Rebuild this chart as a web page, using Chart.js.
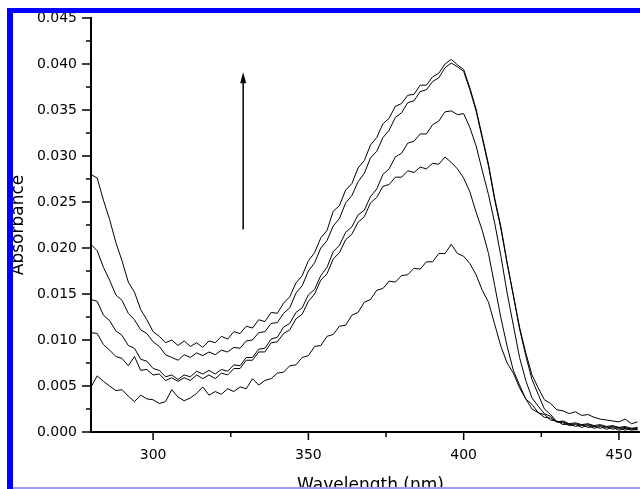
<!DOCTYPE html>
<html><head><meta charset="utf-8">
<script src="https://cdn.jsdelivr.net/npm/chart.js@4.4.0/dist/chart.umd.min.js"></script>
<style>
html,body{margin:0;padding:0;background:#fff;overflow:hidden;width:640px;height:489px;}
#wrap{position:absolute;left:0;top:0;width:660px;height:500px;}
.bar{position:absolute;}
</style></head><body>
<div id="wrap"><canvas id="c"></canvas></div>
<div class="bar" style="left:7px;top:8px;width:640px;height:5px;background:#0000ff"></div>
<div class="bar" style="left:7px;top:8px;width:6px;height:490px;background:#0000ff"></div>
<div class="bar" style="left:13px;top:487px;width:640px;height:2px;background:#9c9cf2"></div>
<script>
const wavelength = [280,282,284,286,288,290,292,294,296,298,300,302,304,306,308,310,312,314,316,318,320,322,324,326,328,330,332,334,336,338,340,342,344,346,348,350,352,354,356,358,360,362,364,366,368,370,372,374,376,378,380,382,384,386,388,390,392,394,396,398,400,402,404,406,408,410,412,414,416,418,420,422,424,426,428,430,432,434,436,438,440,442,444,446,448,450,452,454,456];
const scanA = [.0280,.0276,.0252,.0231,.0206,.0186,.0163,.0152,.0133,.0122,.0109,.0104,.0097,.0100,.0094,.0099,.0093,.0097,.0092,.0099,.0097,.0104,.0101,.0109,.0107,.0115,.0113,.0122,.0120,.0130,.0129,.0140,.0147,.0162,.0170,.0186,.0195,.0211,.0219,.0240,.0246,.0263,.0270,.0287,.0295,.0312,.0320,.0335,.0341,.0354,.0357,.0366,.0367,.0377,.0377,.0386,.0390,.0400,.0405,.0399,.0394,.0374,.0351,.0321,.0291,.0254,.0223,.0184,.0149,.0114,.0086,.0062,.0048,.0035,.0031,.0024,.0023,.0020,.0022,.0018,.0019,.0016,.0014,.0013,.0012,.0011,.0014,.0009,.0011];
const scanB = [.0204,.0197,.0179,.0165,.0149,.0143,.0129,.0122,.0111,.0107,.0098,.0093,.0084,.0081,.0078,.0084,.0081,.0086,.0083,.0087,.0084,.0089,.0087,.0092,.0091,.0099,.0100,.0108,.0109,.0118,.0119,.0129,.0135,.0151,.0159,.0175,.0184,.0200,.0208,.0224,.0232,.0249,.0257,.0272,.0281,.0298,.0305,.0320,.0328,.0342,.0347,.0358,.0360,.0370,.0372,.0381,.0385,.0396,.0401,.0397,.0392,.0372,.0349,.0319,.0289,.0252,.0221,.0183,.0148,.0112,.0083,.0057,.0041,.0025,.0019,.0011,.0010,.0007,.0008,.0005,.0007,.0004,.0006,.0003,.0005,.0002,.0004,.0002,.0003];
const scanC = [.0144,.0142,.0127,.0121,.0110,.0105,.0094,.0091,.0079,.0077,.0069,.0067,.0060,.0062,.0057,.0062,.0060,.0066,.0063,.0067,.0063,.0068,.0066,.0073,.0072,.0081,.0081,.0090,.0091,.0101,.0103,.0114,.0118,.0130,.0135,.0149,.0155,.0170,.0179,.0196,.0203,.0217,.0223,.0236,.0241,.0256,.0264,.0280,.0286,.0299,.0303,.0314,.0316,.0324,.0324,.0334,.0338,.0348,.0349,.0345,.0346,.0331,.0311,.0284,.0258,.0227,.0191,.0151,.0116,.0081,.0056,.0037,.0028,.0020,.0017,.0011,.0011,.0008,.0009,.0007,.0008,.0006,.0007,.0005,.0006,.0004,.0005,.0003,.0004];
const scanD = [.0108,.0107,.0095,.0089,.0082,.0080,.0072,.0082,.0067,.0068,.0062,.0063,.0056,.0059,.0055,.0059,.0056,.0062,.0058,.0062,.0058,.0064,.0062,.0069,.0069,.0078,.0078,.0087,.0087,.0097,.0098,.0107,.0111,.0123,.0128,.0142,.0150,.0165,.0172,.0188,.0195,.0209,.0215,.0228,.0234,.0249,.0255,.0267,.0269,.0277,.0277,.0284,.0282,.0288,.0286,.0292,.0291,.0299,.0293,.0286,.0276,.0261,.0239,.0219,.0194,.0159,.0124,.0093,.0067,.0051,.0036,.0030,.0021,.0019,.0013,.0012,.0008,.0009,.0006,.0008,.0005,.0006,.0004,.0006,.0003,.0005,.0002,.0004,.0002];
const scanE = [.0049,.0061,.0055,.0050,.0045,.0046,.0039,.0033,.0040,.0036,.0035,.0031,.0033,.0046,.0038,.0034,.0037,.0042,.0049,.0040,.0044,.0041,.0047,.0044,.0049,.0047,.0058,.0051,.0056,.0058,.0064,.0065,.0072,.0073,.0081,.0083,.0093,.0094,.0104,.0106,.0115,.0116,.0127,.0130,.0141,.0144,.0154,.0156,.0164,.0163,.0170,.0171,.0178,.0177,.0185,.0185,.0194,.0194,.0204,.0194,.0191,.0183,.0171,.0154,.0141,.0117,.0093,.0075,.0064,.0048,.0036,.0025,.0021,.0016,.0015,.0011,.0012,.0009,.0010,.0008,.0009,.0007,.0008,.0006,.0007,.0005,.0006,.0004,.0005];
const xMajor = [300,350,400,450];
const xMinor = [325,375,425];
const yMajor = [0,0.005,0.010,0.015,0.020,0.025,0.030,0.035,0.040,0.045];
const yMinor = [0.0025,0.0075,0.0125,0.0175,0.0225,0.0275,0.0325,0.0375,0.0425];
const arrowAt = [329];
const arrowFrom = [0.0220];
const arrowTo = [0.0391];

const series = [scanA, scanB, scanC, scanD, scanE];
const datasets = series.map(s => ({
  data: s.map((v, i) => ({x: wavelength[i], y: v})),
  borderColor: '#000', borderWidth: 1, pointRadius: 0, tension: 0, fill: false
}));

const decor = {
  id: 'decor',
  afterDraw(chart) {
    const {ctx, scales: {x, y}, chartArea: a} = chart;
    ctx.save();
    ctx.strokeStyle = '#000'; ctx.fillStyle = '#000'; ctx.lineWidth = 1.5;
    ctx.beginPath();
    const yl = a.left - 1;
    yMajor.forEach(v => { const p = y.getPixelForValue(v); ctx.moveTo(yl - 8, p); ctx.lineTo(yl, p); });
    yMinor.forEach(v => { const p = y.getPixelForValue(v); ctx.moveTo(yl - 4, p); ctx.lineTo(yl, p); });
    const xb = a.bottom + 1;
    xMajor.forEach(v => { const p = x.getPixelForValue(v); ctx.moveTo(p, xb); ctx.lineTo(p, xb + 7); });
    xMinor.forEach(v => { const p = x.getPixelForValue(v); ctx.moveTo(p, xb); ctx.lineTo(p, xb + 4); });
    ctx.stroke();
    const ax = x.getPixelForValue(arrowAt[0]);
    const y0 = y.getPixelForValue(arrowFrom[0]);
    const y1 = y.getPixelForValue(arrowTo[0]);
    ctx.lineWidth = 1.5;
    ctx.beginPath(); ctx.moveTo(ax, y0); ctx.lineTo(ax, y1 + 8); ctx.stroke();
    ctx.beginPath(); ctx.moveTo(ax, y1); ctx.lineTo(ax - 3, y1 + 11); ctx.lineTo(ax + 3, y1 + 11); ctx.closePath(); ctx.fill();
    ctx.restore();
  }
};

const tickFont = {family: 'DejaVu Sans', size: 14};
const titleFont = {family: 'DejaVu Sans', size: 17};

new Chart(document.getElementById('c'), {
  type: 'line',
  data: {datasets},
  plugins: [decor],
  options: {
    responsive: true, maintainAspectRatio: false, animation: false,
    layout: {padding: {left: 0, right: 10, top: 18, bottom: 0}},
    plugins: {legend: {display: false}, tooltip: {enabled: false}},
    scales: {
      x: {
        type: 'linear', min: 280, max: 460,
        afterBuildTicks: s => { s.ticks = xMajor.map(v => ({value: v})); },
        afterFit: s => { s.height = 68; },
        ticks: {font: tickFont, color: '#000', padding: 8, maxRotation: 0, autoSkip: false, callback: v => String(v)},
        grid: {display: true, drawOnChartArea: false, drawTicks: true, tickLength: 7, tickColor: 'rgba(0,0,0,0)'},
        border: {display: true, color: '#000', width: 2},
        title: {display: true, text: 'Wavelength (nm)', font: titleFont, color: '#000', padding: {top: 0, bottom: 4}}
      },
      y: {
        type: 'linear', min: 0, max: 0.045,
        afterBuildTicks: s => { s.ticks = yMajor.map(v => ({value: v})); },
        afterFit: s => { s.width = 91; },
        ticks: {font: tickFont, color: '#000', padding: 6, autoSkip: false, callback: v => v.toFixed(3)},
        grid: {display: true, drawOnChartArea: false, drawTicks: true, tickLength: 8, tickColor: 'rgba(0,0,0,0)'},
        border: {display: true, color: '#000', width: 2},
        title: {display: true, text: 'Absorbance', font: titleFont, color: '#000', padding: {top: 8, bottom: 0}}
      }
    }
  }
});
</script>
</body></html>
